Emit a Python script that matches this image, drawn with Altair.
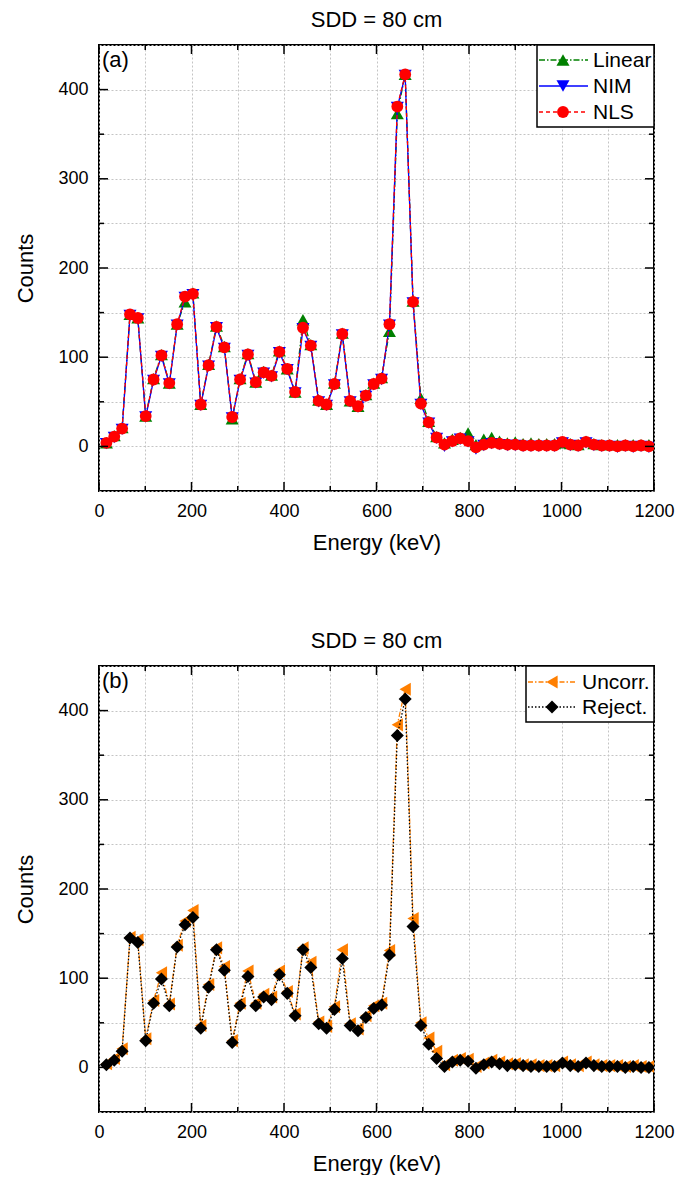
import altair as alt
import pandas as pd

# ---------------- data ----------------
energy = [16, 33, 50, 67, 84, 101, 118, 135, 152, 169,
          186, 203, 220, 237, 254, 271, 288, 305, 322, 339,
          356, 373, 390, 407, 424, 441, 458, 475, 492, 509,
          526, 543, 560, 577, 594, 611, 628, 645, 662, 679,
          696, 713, 730, 747, 764, 781, 798, 815, 832, 849,
          866, 883, 900, 917, 934, 951, 968, 985, 1002, 1019,
          1036, 1053, 1070, 1087, 1104, 1121, 1138, 1155, 1172, 1189]

nls = [4, 11, 20, 148, 144, 34, 75, 102, 71, 137,
       168, 171, 47, 91, 134, 111, 33, 75, 103, 72,
       83, 79, 106, 87, 61, 133, 113, 51, 47, 70,
       126, 51, 45, 57, 70, 76, 137, 381, 417, 162,
       48, 27, 10, 2, 6, 9, 6, -1, 2, 4,
       3, 2, 2, 1, 1, 1, 1, 1, 5, 2,
       1, 5, 2, 1, 1, 0, 1, 0, 1, 0]

nim = [3, 10, 19, 147, 143, 33, 74, 101, 70, 136,
       167, 170, 46, 90, 133, 110, 32, 74, 102, 71,
       82, 78, 105, 86, 60, 132, 112, 50, 46, 69,
       125, 50, 44, 56, 69, 75, 136, 380, 416, 161,
       47, 26, 9, 0, 5, 8, 5, -3, 1, 3,
       2, 1, 1, 0, 0, 0, 0, 0, 4, 1,
       0, 4, 1, 0, 0, -1, 0, -1, 0, -1]

linear = [4, 12, 21, 148, 144, 34, 76, 103, 71, 137,
          162, 172, 47, 92, 135, 112, 31, 76, 104, 72,
          84, 80, 107, 87, 61, 142, 114, 52, 47, 71,
          127, 51, 45, 58, 71, 77, 129, 373, 417, 163,
          54, 28, 11, 4, 8, 10, 15, 2, 8, 10,
          6, 4, 5, 3, 4, 3, 3, 3, 4, 3,
          2, 6, 3, 2, 2, 2, 2, 2, 2, 2]

reject = [3, 8, 18, 145, 140, 30, 72, 99, 69, 135,
          160, 168, 44, 90, 132, 109, 28, 69, 102, 69,
          79, 76, 104, 83, 58, 132, 112, 49, 44, 65,
          122, 47, 41, 56, 66, 70, 126, 372, 413, 158,
          47, 26, 10, 1, 6, 8, 7, -1, 3, 6,
          4, 2, 3, 2, 1, 1, 1, 1, 5, 2,
          1, 5, 2, 1, 1, 1, 0, 1, 0, 0]

uncorr = [4, 10, 21, 146, 143, 32, 75, 106, 71, 137,
          164, 176, 47, 93, 134, 113, 30, 72, 108, 72,
          82, 79, 108, 85, 60, 134, 118, 51, 46, 68,
          132, 49, 43, 58, 69, 72, 131, 384, 424, 167,
          50, 33, 18, 3, 8, 10, 9, 1, 5, 8,
          6, 4, 4, 3, 3, 2, 2, 2, 6, 3,
          2, 6, 3, 2, 2, 2, 1, 2, 1, 1]

x_major = [0, 200, 400, 600, 800, 1000, 1200]
x_minor = [100, 300, 500, 700, 900, 1100]
y_major = [0, 100, 200, 300, 400]
y_minor = [50, 150, 250, 350]
x_grid = [0, 100, 200, 300, 400, 500, 600, 700, 800, 900, 1000, 1100, 1200]
y_grid = [-50, 0, 50, 100, 150, 200, 250, 300, 350, 400, 450]

title_text = "SDD = 80 cm"
top_names = ["Linear", "NIM", "NLS"]
bottom_names = ["Uncorr.", "Reject."]

# ---------------- styling ----------------
FONT = "Liberation Sans"
W, H = 555, 446

xscale = alt.Scale(domain=[0, 1200], nice=False, zero=False)
yscale = alt.Scale(domain=[-50, 450], nice=False, zero=False)

xaxis = alt.Axis(values=x_grid, grid=True, gridDash=[2, 2], gridColor="#c4c4c4",
                 gridWidth=1, ticks=False, domain=False, format="d",
                 labelExpr="datum.value % 200 === 0 ? datum.label : ''",
                 labelFontSize=18, labelPadding=11, labelFont=FONT, labelColor="black",
                 title="Energy (keV)", titleFontSize=22, titleFont=FONT,
                 titleFontWeight="normal", titlePadding=12, titleColor="black",
                 labelFlush=False, labelOverlap=False)
yaxis = alt.Axis(values=y_grid, grid=True, gridDash=[2, 2], gridColor="#c4c4c4",
                 gridWidth=1, ticks=False, domain=False, format="d",
                 labelExpr="(datum.value % 100 === 0 && datum.value >= 0 && datum.value <= 400) ? datum.label : ''",
                 labelFontSize=18, labelPadding=11, labelFont=FONT, labelColor="black",
                 title="Counts", titleFontSize=22, titleFont=FONT,
                 titleFontWeight="normal", titlePadding=20, titleColor="black",
                 labelFlush=False, labelOverlap=False)


def series(df, field, color, shape, dash, size):
    base = alt.Chart(df).encode(
        x=alt.X("energy:Q", scale=xscale, axis=xaxis),
        y=alt.Y(f"{field}:Q", scale=yscale, axis=yaxis),
    )
    lkw = dict(color=color, strokeWidth=1.3, clip=True)
    if dash:
        lkw["strokeDash"] = dash
    line = base.mark_line(**lkw)
    pts = base.mark_point(shape=shape, filled=True, fill=color, color=color,
                          size=size, opacity=1, strokeWidth=0, clip=True)
    return [line, pts]


def tick_layers():
    out = []
    for vals, ln in ((x_major, 9), (x_minor, 5)):
        d = pd.DataFrame({"energy": vals})
        for y0, y1 in ((H, H - ln), (0, ln)):
            out.append(alt.Chart(d).mark_rule(color="black", strokeWidth=1.5).encode(
                x=alt.X("energy:Q", scale=xscale, axis=xaxis),
                y=alt.value(y0), y2=alt.value(y1)))
    for vals, ln in ((y_major, 9), (y_minor, 5)):
        d = pd.DataFrame({"counts": vals})
        for x0, x1 in ((0, ln), (W, W - ln)):
            out.append(alt.Chart(d).mark_rule(color="black", strokeWidth=1.5).encode(
                y=alt.Y("counts:Q", scale=yscale, axis=yaxis),
                x=alt.value(x0), x2=alt.value(x1)))
    return out


def legend_layers(entries, box, line_x, marker_x, text_x, rows):
    one = pd.DataFrame({"k": [0]})
    out = [alt.Chart(one).mark_rect(fill="white", stroke="black", strokeWidth=1.5).encode(
        x=alt.value(box[0]), x2=alt.value(box[1]), y=alt.value(box[2]), y2=alt.value(box[3]))]
    for (name, color, shape, dash, size), yy in zip(entries, rows):
        rkw = dict(color=color, strokeWidth=1.3)
        if dash:
            rkw["strokeDash"] = dash
        out.append(alt.Chart(one).mark_rule(**rkw).encode(
            x=alt.value(line_x[0]), x2=alt.value(line_x[1]), y=alt.value(yy)))
        out.append(alt.Chart(one).mark_point(shape=shape, filled=True, fill=color, color=color,
                                             size=size, opacity=1, strokeWidth=0).encode(
            x=alt.value(marker_x), y=alt.value(yy)))
        out.append(alt.Chart(pd.DataFrame({"t": [name]})).mark_text(
            align="left", baseline="middle", fontSize=21, font=FONT, color="black").encode(
            x=alt.value(text_x), y=alt.value(yy + 1), text="t:N"))
    return out


def panel_label(txt):
    return alt.Chart(pd.DataFrame({"t": [txt]})).mark_text(
        align="left", baseline="middle", fontSize=22, font=FONT, color="black").encode(
        x=alt.value(3), y=alt.value(15), text="t:N")


GREEN, BLUE, RED = "#008000", "#0000ff", "#ff0000"
ORANGE, BLACK = "#ff7f00", "#000000"

df_top = pd.DataFrame({"energy": energy, "linear": linear, "nim": nim, "nls": nls})
df_bot = pd.DataFrame({"energy": energy, "uncorr": uncorr, "reject": reject})

top_specs = [
    ("linear", GREEN, "triangle-up", [6, 2, 1.5, 2], 170),
    ("nim", BLUE, "triangle-down", None, 170),
    ("nls", RED, "circle", [4, 3], 140),
]
bot_specs = [
    ("uncorr", ORANGE, "triangle-left", [5, 2, 1.5, 2], 170),
    ("reject", BLACK, "diamond", [1.5, 2], 170),
]

title_params = alt.TitleParams(title_text, fontSize=22, font=FONT, fontWeight="normal",
                               color="black", offset=4, anchor="middle")

top_layers = []
for s in top_specs:
    top_layers += series(df_top, *s)
top_layers += tick_layers()
top_layers += legend_layers(
    [(n, s[1], s[2], s[3], s[4]) for n, s in zip(top_names, top_specs)],
    box=(438, W, 0, 82), line_x=(440, 489), marker_x=464, text_x=494, rows=[15, 41, 67])
top_layers.append(panel_label("(a)"))
top = alt.layer(*top_layers).properties(width=W, height=H, title=title_params)

bot_layers = []
for s in bot_specs:
    bot_layers += series(df_bot, *s)
bot_layers += tick_layers()
bot_layers += legend_layers(
    [(n, s[1], s[2], s[3], s[4]) for n, s in zip(bottom_names, bot_specs)],
    box=(427, W, 0, 56), line_x=(429, 477), marker_x=453, text_x=483, rows=[16, 41])
bot_layers.append(panel_label("(b)"))
bottom = alt.layer(*bot_layers).properties(width=W, height=H, title=title_params)

chart = alt.vconcat(top, bottom, spacing=75).properties(
    padding={"left": 5, "top": 0, "right": 5, "bottom": 0}
).configure(font=FONT).configure_view(stroke="black", strokeWidth=2)

chart.save("out.html", embed_options={"renderer": "svg", "actions": False})
